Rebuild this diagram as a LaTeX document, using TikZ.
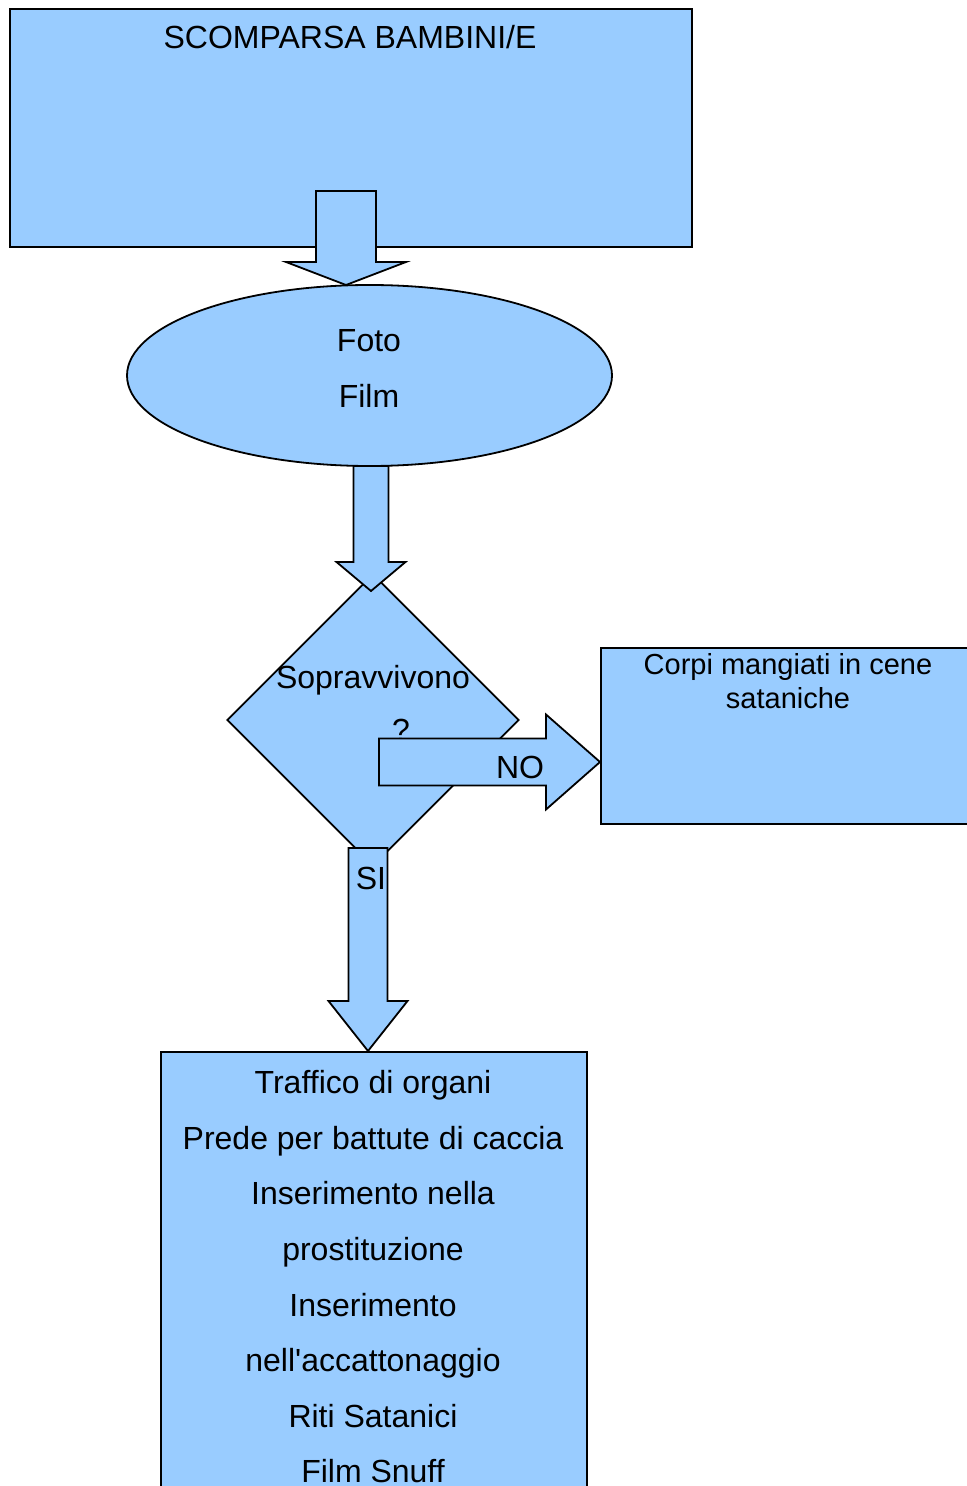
\documentclass[tikz,border=0pt]{standalone}
\usepackage{fontspec}
\setmainfont{Liberation Sans}
\usepackage{xcolor}
\usetikzlibrary{shapes.geometric,positioning}
\definecolor{skyfill}{HTML}{99CCFF}

\begin{document}
\begin{tikzpicture}[
    x=0.5pt, y=-0.5pt,
    box/.style={draw, line width=0.9pt, fill=skyfill, inner sep=0, anchor=north west},
    shapebox/.style={draw, line width=0.9pt, fill=skyfill, inner sep=0},
    fat/.style={draw, line width=0.9pt, fill=skyfill, line join=miter},
    txt/.style={inner sep=0, align=center, font=\fontsize{16pt}{27.8pt}\selectfont},
    smalltxt/.style={inner sep=0, align=center, font=\fontsize{14.5pt}{17pt}\selectfont}
]
\clip (0,0) rectangle (967,1486);
\fill[white] (0,0) rectangle (967,1486);

% top box and ellipse
\node[box, minimum width=341pt, minimum height=119pt] (scomparsa) at (9,8) {};
\node[txt, anchor=base] (scomparsatxt) at (350,48.5) {SCOMPARSA BAMBINI/E};
\node[shapebox, ellipse, minimum width=242.5pt, minimum height=90.5pt] (media) at (369.5,375.5) {};
\node[txt, anchor=north] (mediatxt) at (369,329.5) {Foto\\Film};

\coordinate (tipA) at (346,285);
\draw[fat] (tipA) -- ++(60,-23) -- ++(-30,0) -- ++(0,-71) -- ++(-60,0) -- ++(0,71) -- ++(-30,0) -- cycle;

% question
\node[shapebox, diamond, minimum width=146pt, minimum height=146pt] (sopravv) at (373,720) {};
\node[txt, anchor=base] (sopravvtxt) at (373,688) {Sopravvivono};
\node[txt, anchor=base] (qmark) at (401,741) {?};

\coordinate (tipB) at (371,591);
\draw[fat] (tipB) -- ++(34.5,-29) -- ++(-17,0) -- ++(0,-96) -- ++(-35,0) -- ++(0,96) -- ++(-17,0) -- cycle;

% NO branch
\node[box, minimum width=188pt, minimum height=88pt] (corpi) at (600,647) {};
\node[smalltxt, anchor=north] (corpitxt) at (788,653) {Corpi mangiati in cene\\sataniche};

\coordinate (tipNo) at (600,762);
\draw[fat] (tipNo) -- ++(-54,-47.5) -- ++(0,24) -- ++(-167,0) -- ++(0,47) -- ++(167,0) -- ++(0,24) -- cycle;
\node[txt, anchor=base] (nolbl) at (520,778.5) {NO};

% SI branch
\coordinate (tipSi) at (368,1051);
\draw[fat] (tipSi) -- ++(39.5,-50) -- ++(-20,0) -- ++(0,-153) -- ++(-39,0) -- ++(0,153) -- ++(-20,0) -- cycle;
\node[txt, anchor=base] (silbl) at (371,889.5) {SI};

\node[box, minimum width=213pt, minimum height=260pt] (destino) at (160,1051) {};
\node[txt, anchor=north] (destinotxt) at (373,1070) {Traffico di organi\\Prede per battute di caccia\\Inserimento nella\\prostituzione\\Inserimento\\nell\textquotesingle accattonaggio\\Riti Satanici\\Film Snuff};

\end{tikzpicture}
\end{document}
